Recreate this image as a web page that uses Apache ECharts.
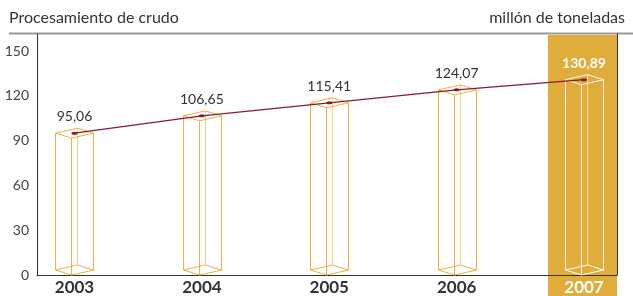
<!DOCTYPE html>
<html>
<head>
<meta charset="utf-8">
<script src="https://cdn.jsdelivr.net/npm/echarts@6/dist/echarts.min.js"></script>
<style>
  html, body { margin: 0; padding: 0; background: #fff; }
  #chart { width: 633px; height: 296px; }
</style>
</head>
<body>
<div id="chart"></div>
<script>
const years = ['2003', '2004', '2005', '2006', '2007']
const values = [95.06, 106.65, 115.41, 124.07, 130.89]
const yTicks = [0, 30, 60, 90, 120, 150]
const highlightIndex = 4

const FONT = 'Lato'
const GOLD = '#E0AC3A'
const BOX = '#EDB140'
const RED = '#8B1A2E'

const points = values.map((v, i) => [i, v])

const fmt = v => v.toFixed(2).replace('.', ',')

// wireframe box drawn around the value point (top face centre)
const renderBox = (params, api) => {
  const i = api.value(0)
  const top = api.coord([i, api.value(1)])
  const bottom = api.coord([i, 0])
  const cx = Math.round(top[0]) + 0.5
  const ty = top[1]
  const by = bottom[1] - 5
  const color = i === highlightIndex ? '#fff' : BOX
  const face = y => [[cx - 19, y], [cx + 3, y - 5], [cx + 19, y], [cx - 3, y + 5]]
  const tf = face(ty)
  const bf = face(by)
  const st = { stroke: color, fill: null, lineWidth: 1 }
  const children = [
    { type: 'polygon', shape: { points: tf }, style: st },
    { type: 'polygon', shape: { points: bf }, style: st }
  ]
  for (let k = 0; k < 4; k++) {
    children.push({
      type: 'line',
      shape: { x1: tf[k][0], y1: tf[k][1], x2: bf[k][0], y2: bf[k][1] },
      style: { stroke: color, lineWidth: 1, opacity: k === 1 ? 0.6 : 1 }
    })
  }
  return { type: 'group', children }
}

const renderHighlight = (params, api) => {
  const c = api.coord([api.value(0), 0])
  const cs = params.coordSys
  const x1 = Math.round(c[0] - 36)
  const x2 = cs.x + cs.width
  return {
    type: 'rect',
    shape: { x: x1, y: cs.y + 1, width: x2 - x1, height: api.getHeight() - cs.y },
    style: { fill: GOLD }
  }
}

const chart = echarts.init(document.getElementById('chart'))

chart.setOption({
  animation: false,
  textStyle: { fontFamily: FONT },
  title: [
    { text: 'Procesamiento de crudo', left: 9, top: 10, padding: 0,
      textStyle: { fontFamily: FONT, fontSize: 16, fontWeight: 'normal', color: '#333' } },
    { text: 'millón de toneladas', right: 8, top: 10, padding: 0,
      textStyle: { fontFamily: FONT, fontSize: 16, fontWeight: 'normal', color: '#333' } }
  ],
  graphic: [
    { type: 'line', shape: { x1: 9, y1: 33.5, x2: 633, y2: 33.5 },
      style: { stroke: '#9a9a9a', lineWidth: 2 } }
  ],
  grid: { left: 37, right: 16, top: 34, bottom: 18 },
  xAxis: {
    type: 'value',
    min: -0.2944,
    max: 4.259,
    splitLine: { show: false },
    axisTick: { show: false },
    axisLine: { onZero: false, lineStyle: { color: '#333', width: 1 } },
    axisLabel: {
      customValues: years.map((y, i) => i),
      margin: 4,
      formatter: v => (v === highlightIndex ? '{hl|' : '{n|') + years[v] + '}',
      rich: {
        n: { fontFamily: FONT, fontSize: 17, fontWeight: 'bold', color: '#333' },
        hl: { fontFamily: FONT, fontSize: 17, fontWeight: 'bold', color: '#fff' }
      }
    }
  },
  yAxis: [
    {
      type: 'value',
      min: 0,
      max: 161.5,
      splitLine: { show: false },
      axisTick: { show: false },
      axisLine: { show: true, onZero: false, lineStyle: { color: '#333', width: 1 } },
      axisLabel: { customValues: yTicks, margin: 8, fontSize: 14, color: '#444', fontFamily: FONT }
    },
    {
      type: 'value',
      position: 'right',
      min: 0,
      max: 1,
      splitLine: { show: false },
      axisTick: { show: false },
      axisLabel: { show: false },
      axisLine: { show: true, onZero: false, lineStyle: { color: '#333', width: 1 } }
    }
  ],
  series: [
    {
      type: 'custom',
      z: -1,
      clip: false,
      renderItem: renderHighlight,
      data: [[highlightIndex]]
    },
    {
      type: 'custom',
      z: 2,
      clip: false,
      renderItem: renderBox,
      data: points
    },
    {
      type: 'line',
      z: 3,
      data: points.map((p, i) => i === highlightIndex
        ? { value: p, label: { color: '#fff', fontWeight: 'bold' } }
        : { value: p }),
      symbol: 'circle',
      symbolSize: [6, 3],
      itemStyle: { color: RED },
      lineStyle: { color: RED, width: 1.2 },
      label: {
        show: true,
        position: 'top',
        distance: 8,
        fontFamily: FONT,
        fontSize: 14,
        color: '#333',
        formatter: p => fmt(p.value[1])
      }
    }
  ]
})
</script>
</body>
</html>
